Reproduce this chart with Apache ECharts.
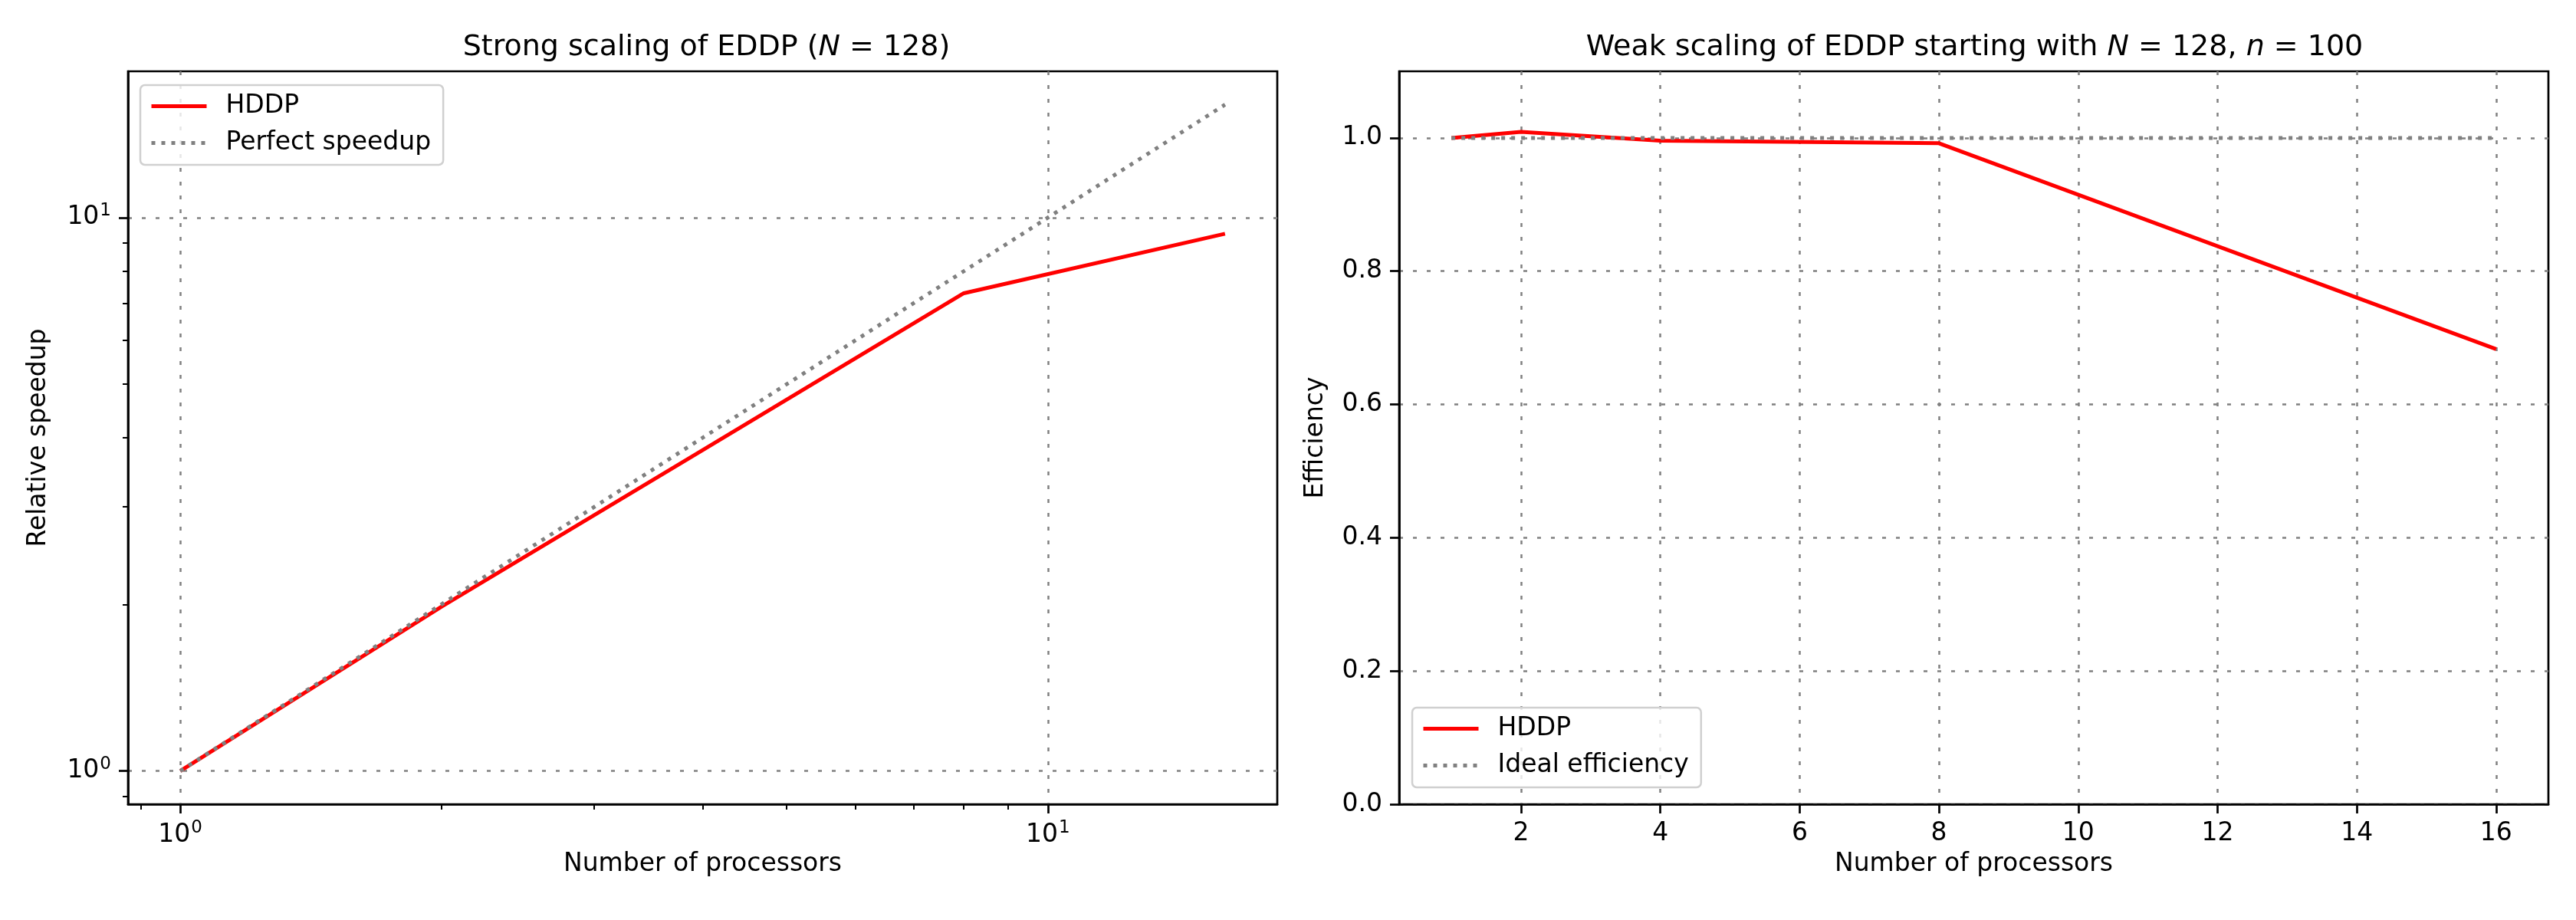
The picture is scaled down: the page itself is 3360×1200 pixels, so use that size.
<!DOCTYPE html>
<html>
<head>
<meta charset="utf-8">
<script src="https://cdn.jsdelivr.net/npm/echarts@6/dist/echarts.min.js"></script>
<style>
  html, body { margin: 0; padding: 0; background: #fff; }
  #main { width: 3360px; height: 1200px; }
</style>
</head>
<body>
<div id="main"></div>
<script>
// processor counts, shared by both panels
const procs = [1, 2, 4, 8, 16]

// strong scaling (left)
const strongHDDP = [1.0, 1.98, 3.80, 7.30, 9.35]
const perfectSpeedup = [1, 2, 4, 8, 16]

// weak scaling (right)
const weakHDDP = [1.0, 1.009, 0.996, 0.992, 0.683]
const idealEfficiency = [1, 1, 1, 1, 1]

// tick values
const logMajorTicks = [1, 10]
const logMinorTicks = [0.9, 2, 3, 4, 5, 6, 7, 8, 9]
const weakXTicks = [2, 4, 6, 8, 10, 12, 14, 16]
const weakYTicks = [0, 0.2, 0.4, 0.6, 0.8, 1.0]

const FONT = 'DejaVu Sans'
const FS = 33
const SPINE = 2.7

const grid1 = { left: 167, top: 93, width: 1499, height: 956 }
const grid2 = { left: 1825, top: 93, width: 1499, height: 956 }

const pairs = (xs, ys) => xs.map((x, i) => [x, ys[i]])

const gridLine = { show: true, lineStyle: { color: '#808080', width: 2.5, type: [5, 13] } }

const powLabel = v => '{b|10}{s|' + Math.round(Math.log10(v)) + '}'
const powRich = {
  b: { fontFamily: FONT, fontSize: FS, color: '#000' },
  s: { fontFamily: FONT, fontSize: 23, color: '#000', padding: [0, 0, 18, 1] }
}

function majorAxis(extra) {
  return Object.assign({
    axisLine: { show: true, lineStyle: { color: '#000', width: SPINE } },
    axisTick: { show: true, length: 12, lineStyle: { color: '#000', width: SPINE } },
    axisLabel: { color: '#000', fontFamily: FONT, fontSize: FS },
    splitLine: gridLine,
    nameTextStyle: { color: '#000', fontFamily: FONT, fontSize: FS },
    nameLocation: 'middle'
  }, extra)
}

// extra axis on the same edge that only carries the minor log ticks
function minorAxis(extra) {
  return Object.assign({
    type: 'log',
    axisLine: { show: false },
    axisTick: { show: true, inside: true, length: 7, customValues: logMinorTicks,
      lineStyle: { color: '#000', width: 2 } },
    axisLabel: { show: false },
    splitLine: { show: false }
  }, extra)
}

const legendBase = {
  orient: 'vertical',
  itemWidth: 72,
  itemHeight: 34,
  itemGap: 15,
  padding: [11, 16, 12, 12],
  backgroundColor: 'rgba(255,255,255,0.8)',
  borderColor: '#d0d0d0',
  borderWidth: 2.5,
  borderRadius: 6,
  itemStyle: { opacity: 0 },
  lineStyle: { width: 5 },
  textStyle: { color: '#000', fontFamily: FONT, fontSize: FS, padding: [0, 0, 0, 20] }
}

const titleRich = {
  r: { fontFamily: FONT, fontSize: 38, fontWeight: 'normal', color: '#000' },
  i: { fontFamily: FONT, fontSize: 38, fontWeight: 'normal', color: '#000', fontStyle: 'italic' }
}

const option = {
  animation: false,
  backgroundColor: '#fff',
  title: [
    {
      text: '{r|Strong scaling of EDDP (}{i|N}{r| = 128)}',
      left: grid1.left + grid1.width / 2, top: 38, textAlign: 'center',
      textStyle: { fontWeight: 'normal', rich: titleRich }
    },
    {
      text: '{r|Weak scaling of EDDP starting with }{i|N}{r| = 128, }{i|n}{r| = 100}',
      left: grid2.left + grid2.width / 2 - 4, top: 38, textAlign: 'center',
      textStyle: { fontWeight: 'normal', rich: titleRich }
    }
  ],
  grid: [
    Object.assign({ show: true, borderColor: '#000', borderWidth: SPINE, backgroundColor: '#fff' }, grid1),
    Object.assign({ show: true, borderColor: '#000', borderWidth: SPINE, backgroundColor: '#fff' }, grid2)
  ],
  legend: [
    Object.assign({ left: 183, top: 111, data: ['HDDP', 'Perfect speedup'] }, legendBase),
    Object.assign({ left: 1842, top: 923, data: ['HDDP', 'Ideal efficiency'] }, legendBase)
  ],
  xAxis: [
    majorAxis({
      gridIndex: 0, type: 'log', min: 0.8706, max: 18.38, position: 'bottom',
      name: 'Number of processors', nameGap: 62,
      axisTick: { show: true, length: 12, customValues: logMajorTicks, lineStyle: { color: '#000', width: SPINE } },
      axisLabel: { customValues: logMajorTicks, margin: 20, formatter: powLabel, rich: powRich }
    }),
    minorAxis({ gridIndex: 0, min: 0.8706, max: 18.38, position: 'top', offset: -grid1.height }),
    majorAxis({
      gridIndex: 1, type: 'value', min: 0.25, max: 16.75, position: 'bottom',
      name: 'Number of processors', nameGap: 62,
      axisTick: { show: true, length: 12, customValues: weakXTicks, lineStyle: { color: '#000', width: SPINE } },
      axisLabel: { customValues: weakXTicks, margin: 22, color: '#000', fontFamily: FONT, fontSize: FS }
    })
  ],
  yAxis: [
    majorAxis({
      gridIndex: 0, type: 'log', min: 0.8706, max: 18.38, position: 'left',
      name: 'Relative speedup', nameGap: 100,
      axisTick: { show: true, length: 12, customValues: logMajorTicks, lineStyle: { color: '#000', width: SPINE } },
      axisLabel: { customValues: logMajorTicks, margin: 22, formatter: powLabel, rich: powRich }
    }),
    minorAxis({ gridIndex: 0, min: 0.8706, max: 18.38, position: 'right', offset: -grid1.width }),
    majorAxis({
      gridIndex: 1, type: 'value', min: 0, max: 1.1, position: 'left',
      name: 'Efficiency', nameGap: 92,
      axisTick: { show: true, length: 12, customValues: weakYTicks, lineStyle: { color: '#000', width: SPINE } },
      axisLabel: { customValues: weakYTicks, margin: 22, color: '#000', fontFamily: FONT, fontSize: FS,
        formatter: v => v.toFixed(1) }
    })
  ],
  series: [
    {
      name: 'HDDP', type: 'line', xAxisIndex: 0, yAxisIndex: 0,
      data: pairs(procs, strongHDDP), symbol: 'none',
      lineStyle: { color: '#ff0000', width: 5 }, itemStyle: { color: '#ff0000' }
    },
    {
      name: 'Perfect speedup', type: 'line', xAxisIndex: 0, yAxisIndex: 0,
      data: pairs(procs, perfectSpeedup), symbol: 'none',
      lineStyle: { color: '#808080', width: 5, type: [5, 8] }, itemStyle: { color: '#808080' }
    },
    {
      name: 'HDDP', type: 'line', xAxisIndex: 2, yAxisIndex: 2,
      data: pairs(procs, weakHDDP), symbol: 'none',
      lineStyle: { color: '#ff0000', width: 5 }, itemStyle: { color: '#ff0000' }
    },
    {
      name: 'Ideal efficiency', type: 'line', xAxisIndex: 2, yAxisIndex: 2,
      data: pairs(procs, idealEfficiency), symbol: 'none',
      lineStyle: { color: '#808080', width: 5, type: [5, 8] }, itemStyle: { color: '#808080' }
    }
  ]
}

const chart = echarts.init(document.getElementById('main'), null, { renderer: 'canvas', width: 3360, height: 1200 })
chart.setOption(option)
</script>
</body>
</html>
